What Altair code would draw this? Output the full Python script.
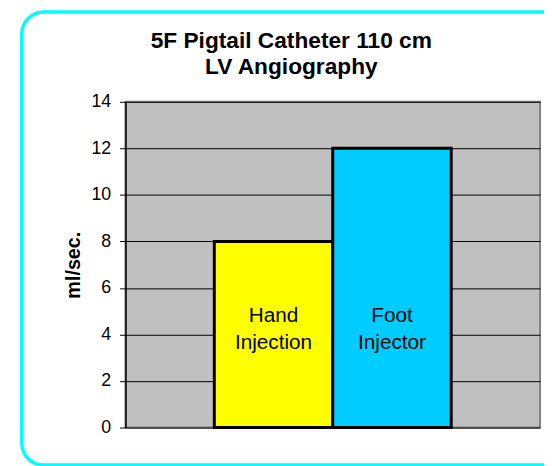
import altair as alt
import pandas as pd

# ---- data ----
methods = ["Hand Injection", "Foot Injector"]
bar_labels = ["Hand\nInjection", "Foot\nInjector"]
rates = [8, 12]
bar_colors = ["#FFFF00", "#00CCFF"]
y_ticks = [0, 2, 4, 6, 8, 10, 12, 14]
title_lines = ["5F Pigtail Catheter 110 cm", "LV Angiography"]
y_title = "ml/sec."
label_level = 4.8

df = pd.DataFrame({
    "group": ["LV"] * len(methods),
    "method": methods,
    "label": bar_labels,
    "rate": rates,
})
title_df = pd.DataFrame({"t": ["\n".join(title_lines)]})

FONT = "Liberation Sans"

x_enc = alt.X("group:N", scale=alt.Scale(paddingInner=0, paddingOuter=0.375), axis=None)
xo_enc = alt.XOffset("method:N", sort=methods,
                     scale=alt.Scale(domain=methods, paddingInner=0, paddingOuter=0))

border = alt.Chart(pd.DataFrame({"k": [0]})).mark_rect(
    fill="white", fillOpacity=0, stroke="#00FFFF", strokeWidth=3.5, cornerRadius=22
).encode(
    x=alt.value(-105), x2=alt.value(445), y=alt.value(-91), y2=alt.value(368)
)

title = alt.Chart(title_df).mark_text(
    font=FONT, fontSize=23, fontWeight="bold", color="black", align="center",
    baseline="alphabetic", lineBreak="\n", lineHeight=27
).encode(
    x=alt.value(168), y=alt.value(-55), text="t:N"
)

bars = alt.Chart(df).mark_bar(stroke="black", strokeWidth=3).encode(
    x=x_enc,
    xOffset=xo_enc,
    y=alt.Y("rate:Q",
            scale=alt.Scale(domain=[0, 14], nice=False),
            axis=alt.Axis(values=y_ticks, title=y_title, grid=True,
                          gridColor="black", gridWidth=1,
                          domainColor="black", domainWidth=1.5,
                          tickColor="black", tickSize=6, tickWidth=1,
                          labelFont=FONT, labelFontSize=18, labelColor="black",
                          labelPadding=9,
                          titleFont=FONT, titleFontSize=20, titleFontWeight="bold",
                          titleColor="black", titlePadding=8)),
    color=alt.Color("method:N", sort=methods,
                    scale=alt.Scale(domain=methods, range=bar_colors), legend=None),
)

texts = alt.Chart(df).mark_text(
    font=FONT, fontSize=21, color="black", align="center", baseline="middle",
    lineBreak="\n", lineHeight=28
).encode(
    x=x_enc,
    xOffset=xo_enc,
    y=alt.datum(label_level),
    text="label:N",
)

chart = alt.layer(border, title, bars, texts).properties(
    width=420,
    height=330,
    padding={"left": 119, "top": 92, "right": 4, "bottom": 44},
    autosize=alt.AutoSizeParams(type="none"),
).configure(
    background="white"
).configure_view(
    fill="#C0C0C0", stroke="#808080", strokeWidth=2
)

chart.save("out.html", embed_options={"renderer": "svg", "actions": False})
